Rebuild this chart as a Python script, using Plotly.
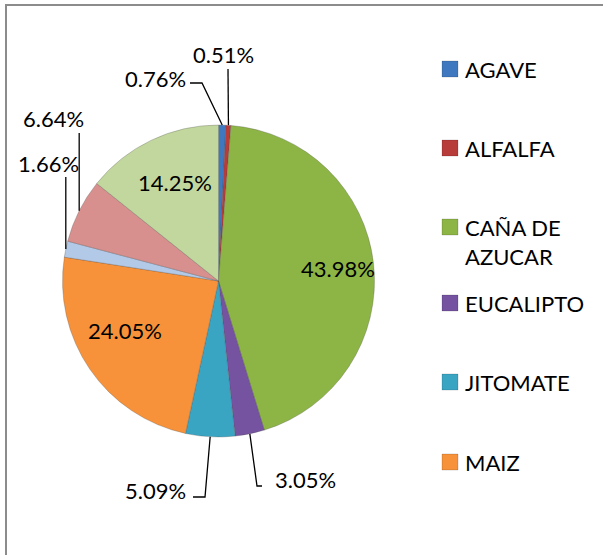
import math
import plotly.graph_objects as go

# ---------------- data ----------------
categories = ["AGAVE", "ALFALFA", "CAÑA DE AZUCAR", "EUCALIPTO", "JITOMATE", "MAIZ",
              "NOPAL", "PASTOS", "SORGO"]  # last three are hidden in the source legend
shares = [0.76, 0.51, 43.98, 3.05, 5.09, 24.05, 1.66, 6.64, 14.25]
legend_labels = ["AGAVE", "ALFALFA", "CAÑA DE<br>AZUCAR", "EUCALIPTO", "JITOMATE", "MAIZ"]

# ---------------- style / layout ----------------
W, H = 603, 555
colors = ["#3F78BF", "#B83C3A", "#8DB545", "#7553A0", "#3AA5C3", "#F7923A",
          "#B3C9E8", "#D8908E", "#C2D79D"]
FONT = "Lato"
FS = 22
CX, CY, R = 218.5, 281.0, 156.0   # pie centre / radius in pixels

# label placement (pixels): centre of text, and leader path after the slice anchor
label_pos = {
    "AGAVE": dict(xy=(155, 78), path=[(202, 83), (190, 83)]),
    "ALFALFA": dict(xy=(224, 55), path=[(228, 69)]),
    "CAÑA DE AZUCAR": dict(xy=(338, 268), path=None),
    "EUCALIPTO": dict(xy=(305, 479), path=[(257, 486), (262, 486)]),
    "JITOMATE": dict(xy=(155, 490), path=[(205, 497), (193, 497)]),
    "MAIZ": dict(xy=(125, 330), path=None),
    "NOPAL": dict(xy=(48, 163), path=[(None, 177)]),
    "PASTOS": dict(xy=(53, 118), path=[(None, 133)]),
    "SORGO": dict(xy=(175, 183), path=None),
}
legend_y = [69, 148, 227, 303, 382, 462]
LEG_SQ_X, LEG_TXT_X, SQ = 442, 463, 16


def px(x):
    return x / W


def py(y):
    return 1 - y / H


fig = go.Figure()
fig.add_trace(go.Pie(
    labels=categories, values=shares, sort=False, direction="clockwise", rotation=0,
    marker=dict(colors=colors, line=dict(color="rgba(70,70,70,0.35)", width=0.8)),
    textinfo="none", hoverinfo="skip", showlegend=False,
    domain=dict(x=[px(CX - R), px(CX + R)], y=[py(CY + R), py(CY - R)]),
))

annotations = []
shapes = []

# outer chart frame (extends beyond the visible window, as in the source)
shapes.append(dict(type="rect", xref="paper", yref="paper",
                   x0=px(6), x1=px(W + 20), y0=py(5), y1=py(H + 20),
                   line=dict(color="#8C8C8C", width=2), fillcolor="rgba(0,0,0,0)", layer="above"))

total = sum(shares)
cum = 0.0
for cat, v in zip(categories, shares):
    mid = (cum + v / 2) / total * 2 * math.pi
    cum += v
    ax = CX + R * math.sin(mid)
    ay = CY - R * math.cos(mid)
    info = label_pos[cat]
    tx, ty = info["xy"]
    annotations.append(dict(x=px(tx), y=py(ty), xref="paper", yref="paper",
                            text=f"{v:.2f}%", showarrow=False,
                            font=dict(family=FONT, size=FS, color="black"),
                            xanchor="center", yanchor="middle"))
    if info["path"]:
        pts = [(ax, ay)] + [((ax if p[0] is None else p[0]), p[1]) for p in info["path"]]
        d = "M " + " L ".join(f"{px(x):.5f},{py(y):.5f}" for x, y in pts)
        shapes.append(dict(type="path", xref="paper", yref="paper", path=d,
                           line=dict(color="black", width=1.3)))

# legend (only the first six entries are visible in the source)
for i, (lab, yy) in enumerate(zip(legend_labels, legend_y)):
    shapes.append(dict(type="rect", xref="paper", yref="paper",
                       x0=px(LEG_SQ_X), x1=px(LEG_SQ_X + SQ),
                       y0=py(yy + SQ / 2), y1=py(yy - SQ / 2),
                       fillcolor=colors[i], line=dict(color="rgba(0,0,0,0.25)", width=0.6)))
    annotations.append(dict(x=px(LEG_TXT_X), y=py(yy - 15), xref="paper", yref="paper",
                            text=lab, showarrow=False, align="left",
                            font=dict(family=FONT, size=FS, color="black"),
                            xanchor="left", yanchor="top"))

fig.update_layout(
    width=W, height=H, margin=dict(l=0, r=0, t=0, b=0),
    paper_bgcolor="white", plot_bgcolor="white",
    annotations=annotations, shapes=shapes, showlegend=False,
)
fig.write_html("out.html", config={"displayModeBar": False},
               post_script="document.body.style.margin='0';document.body.style.overflow='hidden';")
